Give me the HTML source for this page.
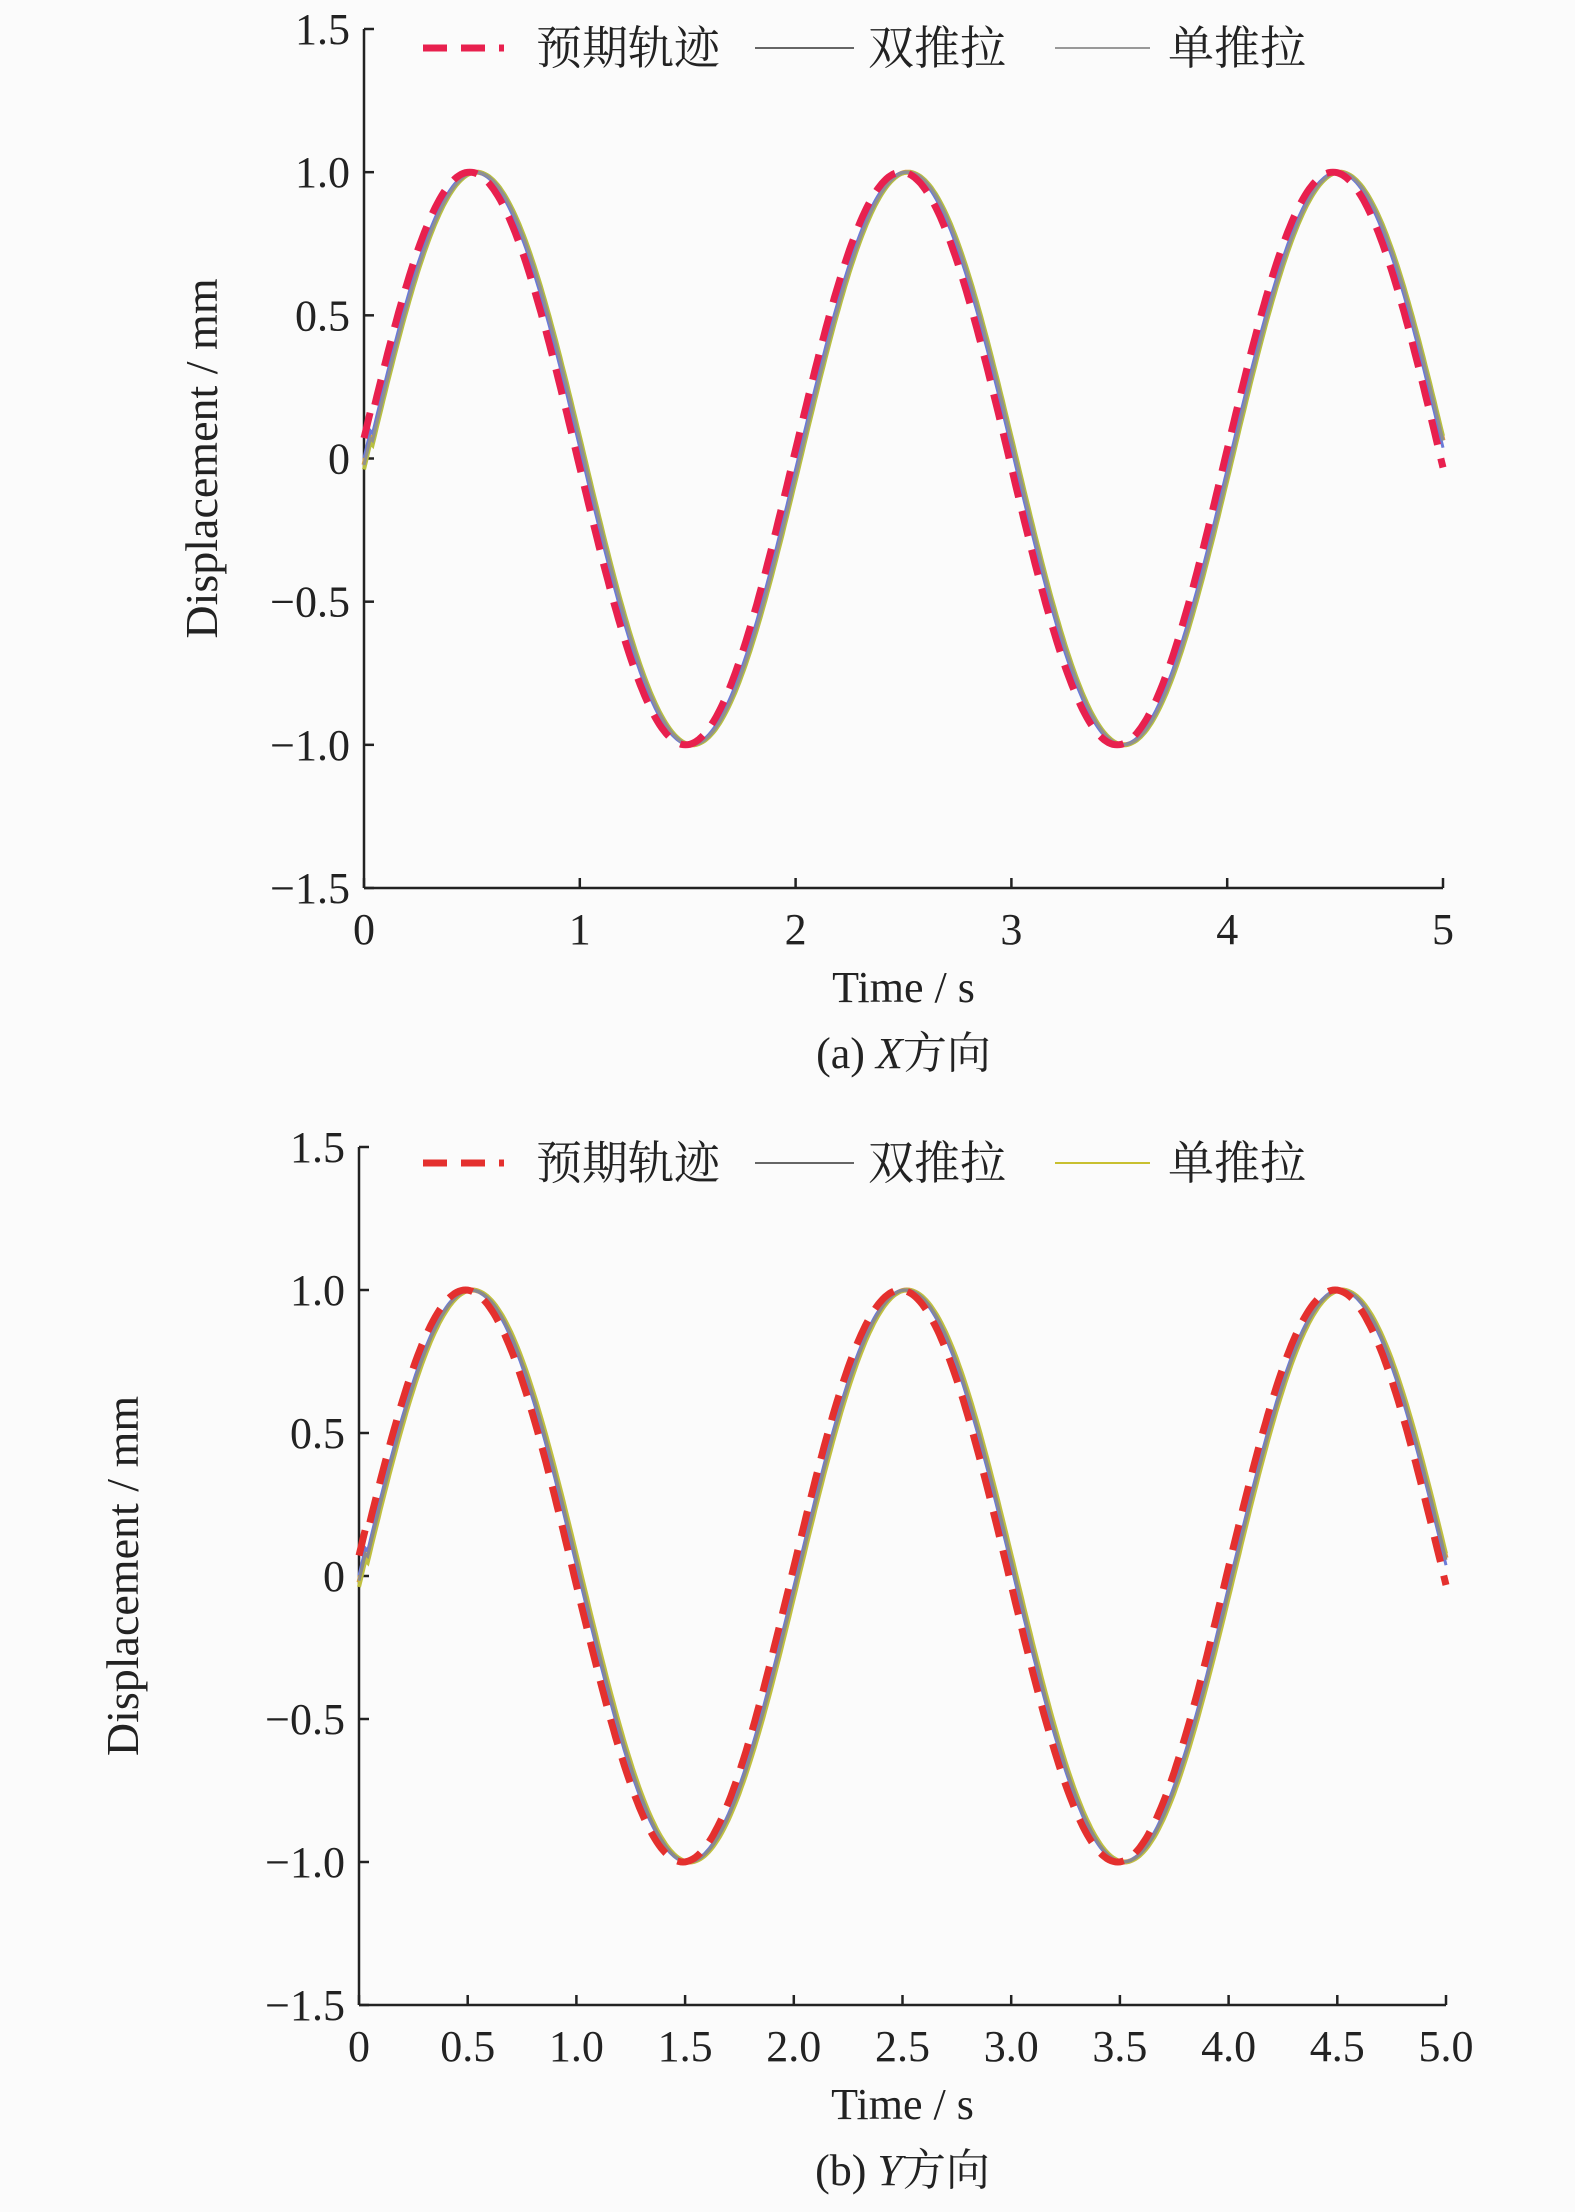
<!DOCTYPE html>
<html><head><meta charset="utf-8"><style>
body{margin:0;background:#fbfbfb;}
svg{display:block;font-family:"Liberation Serif","Noto Serif CJK SC",serif;}
</style></head><body>
<svg id="s" width="1575" height="2212" viewBox="0 0 1575 2212" xmlns="http://www.w3.org/2000/svg">
<rect width="1575" height="2212" fill="#fbfbfb"/>
<g id="c1"></g><g id="c2"></g>
</svg>
<script>
const NS="http://www.w3.org/2000/svg";
function el(p,t,a,txt){const e=document.createElementNS(NS,t);for(const k in a)e.setAttribute(k,a[k]);if(txt!==undefined)e.textContent=txt;p.appendChild(e);return e;}
function chart(g,o){
 const X=t=>o.x0+(o.x1-o.x0)*t/5, Y=v=>o.yb+(o.yt-o.yb)*(v+1.5)/3;
 el(g,'line',{x1:o.x0,y1:o.yt,x2:o.x0,y2:o.yb,stroke:'#222','stroke-width':2.5});
 el(g,'line',{x1:o.x0,y1:o.yb,x2:o.x1,y2:o.yb,stroke:'#222','stroke-width':2.5});
 [-1.5,-1,-0.5,0,0.5,1,1.5].forEach(v=>{
  el(g,'line',{x1:o.x0,y1:Y(v),x2:o.x0+10,y2:Y(v),stroke:'#222','stroke-width':2.5});
  let s=v===0?'0':(v<0?'\u2212':'')+Math.abs(v).toFixed(1);
  el(g,'text',{x:o.x0-14,y:Y(v)+15,'font-size':44,'text-anchor':'end',fill:'#222'},s);
 });
 o.xt.forEach(t=>{
  el(g,'line',{x1:X(t),y1:o.yb,x2:X(t),y2:o.yb-10,stroke:'#222','stroke-width':2.5});
  el(g,'text',{x:X(t),y:o.yb+56,'font-size':44,'text-anchor':'middle',fill:'#222'},o.fmt(t));
 });
 el(g,'text',{x:(o.x0+o.x1)/2,y:o.yb+114,'font-size':44,'text-anchor':'middle',fill:'#222'},'Time / s');
 const cap=el(g,'text',{x:(o.x0+o.x1)/2,y:o.yb+180,'font-size':44,'text-anchor':'middle',fill:'#222'});
 cap.innerHTML=o.cap;
 el(g,'text',{x:o.ylx,y:(o.yt+o.yb)/2+15,'font-size':46,'text-anchor':'middle',fill:'#222',transform:`rotate(-90 ${o.ylx} ${(o.yt+o.yb)/2})`},'Displacement / mm');
 function path(sh,amp){let d='';for(let i=0;i<=500;i++){const t=i/100;const v=Math.sin(Math.PI*(t-sh))*amp+(t<0.04?0.04:0);d+=(i?'L':'M')+X(t).toFixed(1)+' '+Y(v).toFixed(1);}return d;}
 o.lines.forEach(l=>el(g,'path',{d:path(l[0],1),fill:'none',stroke:l[1],'stroke-width':l[2]}));
 el(g,'path',{d:path(-0.01,1),fill:'none',stroke:o.red,'stroke-width':7,'stroke-dasharray':'26 14'});
 const ly=o.ly;
 el(g,'line',{x1:423,y1:ly,x2:504,y2:ly,stroke:o.red,'stroke-width':7,'stroke-dasharray':'24 14'});
 el(g,'text',{x:536,y:ly+16,'font-size':46,fill:'#222'},'预期轨迹');
 el(g,'line',{x1:755,y1:ly,x2:854,y2:ly,stroke:'#666','stroke-width':2});
 el(g,'text',{x:868,y:ly+16,'font-size':46,fill:'#222'},'双推拉');
 el(g,'line',{x1:1055,y1:ly,x2:1150,y2:ly,stroke:o.l3,'stroke-width':2});
 el(g,'text',{x:1168,y:ly+16,'font-size':46,fill:'#222'},'单推拉');
}
chart(document.getElementById('c1'),{x0:364,x1:1443,yt:29,yb:888,ylx:202,ly:48,xt:[0,1,2,3,4,5],fmt:t=>String(t),
 cap:'(a) <tspan font-style="italic">X</tspan>方向',red:'#e8204e',l3:'#999',
 lines:[[0.02,'#d9a040',5],[0.025,'#b8c040',4],[0.012,'#6a7ad8',3],[0.02,'#909090',3]]});
chart(document.getElementById('c2'),{x0:359,x1:1446,yt:1147,yb:2005,ylx:123,ly:1163,xt:[0,0.5,1,1.5,2,2.5,3,3.5,4,4.5,5],fmt:t=>t===0?'0':t.toFixed(1),
 cap:'(b) <tspan font-style="italic">Y</tspan>方向',red:'#e4302e',l3:'#c8c030',
 lines:[[0.02,'#d9a040',5],[0.025,'#c0c040',4],[0.012,'#6a7ad8',3],[0.018,'#8a8a8a',3]]});
</script>
</body></html>
